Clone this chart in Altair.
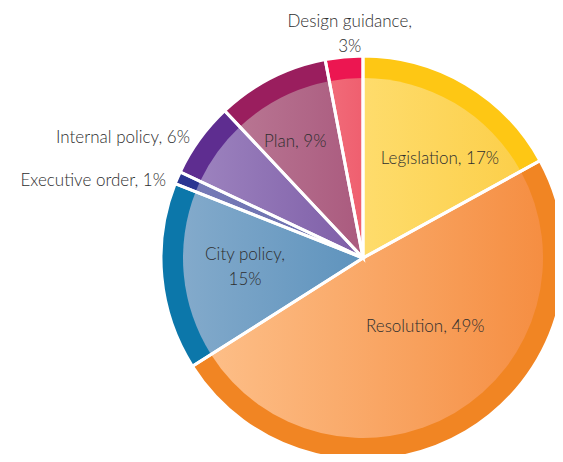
import math
import altair as alt
import pandas as pd

categories = ["Legislation", "Resolution", "City policy", "Executive order",
              "Internal policy", "Plan", "Design guidance"]
shares = [17, 49, 15, 1, 6, 9, 3]
label_texts = ["Legislation, 17%", "Resolution, 49%", "City policy,\n15%",
               "Executive order, 1%", "Internal policy, 6%", "Plan, 9%",
               "Design guidance,\n3%"]

ring_colors = ["#FEC714", "#F18523", "#0C77AA", "#2A3591", "#5E2D90", "#9A1E5E", "#EC1651"]
inner_left = ["#FEDC6C", "#FDBE87", "#83AACB", "#7579B6", "#9C82BE", "#B87592", "#F16B79"]
inner_right = ["#FCCF4A", "#F58E42", "#5E93BD", "#6B6FAF", "#7D5DA7", "#AA5A7E", "#EF5F6F"]

# label placement (angle in degrees clockwise from top, radius in px, alignment)
label_angle = [38, 138, 271.5, 291.3, 304.7, 329.6, 356.8]
label_radius = [125, 93, 118, 211.5, 210.5, 134, 236.4]
label_align = ["center", "center", "center", "right", "right", "center", "center"]

CX, CY = 355, 250
R_OUT, R_IN = 202, 180

def grad(a, b):
    return {"gradient": "linear", "x1": 0, "y1": 0, "x2": 1, "y2": 0,
            "stops": [{"offset": 0, "color": a}, {"offset": 1, "color": b}]}

df = pd.DataFrame({
    "idx": list(range(len(categories))),
    "category": categories,
    "share": shares,
    "ring": ring_colors,
    "inner": [grad(a, b) for a, b in zip(inner_left, inner_right)],
})

lab = pd.DataFrame({
    "text": label_texts,
    "theta": [math.radians(a) for a in label_angle],
    "r": label_radius,
    "align": label_align,
})

base = alt.Chart(df).encode(
    theta=alt.Theta("share:Q", stack=True),
    order=alt.Order("idx:Q"),
    x=alt.value(CX), y=alt.value(CY),
)

ring = base.mark_arc(radius=R_OUT).encode(color=alt.Color("ring:N", scale=None))
inner = base.mark_arc(radius=R_IN).encode(color=alt.Color("inner", scale=None))
sep = base.mark_arc(radius=R_OUT, filled=False, stroke="white", strokeWidth=3).encode(
    stroke=alt.value("white"))

font = "Lato"
tbase = alt.Chart(lab).encode(
    theta=alt.Theta("theta:Q", scale=None),
    radius=alt.Radius("r:Q", scale=None),
    text="text:N",
    x=alt.value(CX), y=alt.value(CY),
)
t_center = tbase.mark_text(font=font, fontSize=17, fontWeight=300, color="#2e2e2e", align="center",
                           baseline="middle", lineBreak="\n", lineHeight=25).transform_filter(
    alt.datum.align == "center")
t_right = tbase.mark_text(font=font, fontSize=17, fontWeight=300, color="#2e2e2e", align="right",
                          baseline="middle").transform_filter(alt.datum.align == "right")

chart = alt.layer(ring, inner, sep, t_center, t_right).properties(
    width=547, height=446, autosize=alt.AutoSizeParams(type="none"), padding=0
).configure(background="white").configure_view(strokeWidth=0, stroke="transparent")

chart.save("out.html", embed_options={"renderer": "svg", "actions": False})
